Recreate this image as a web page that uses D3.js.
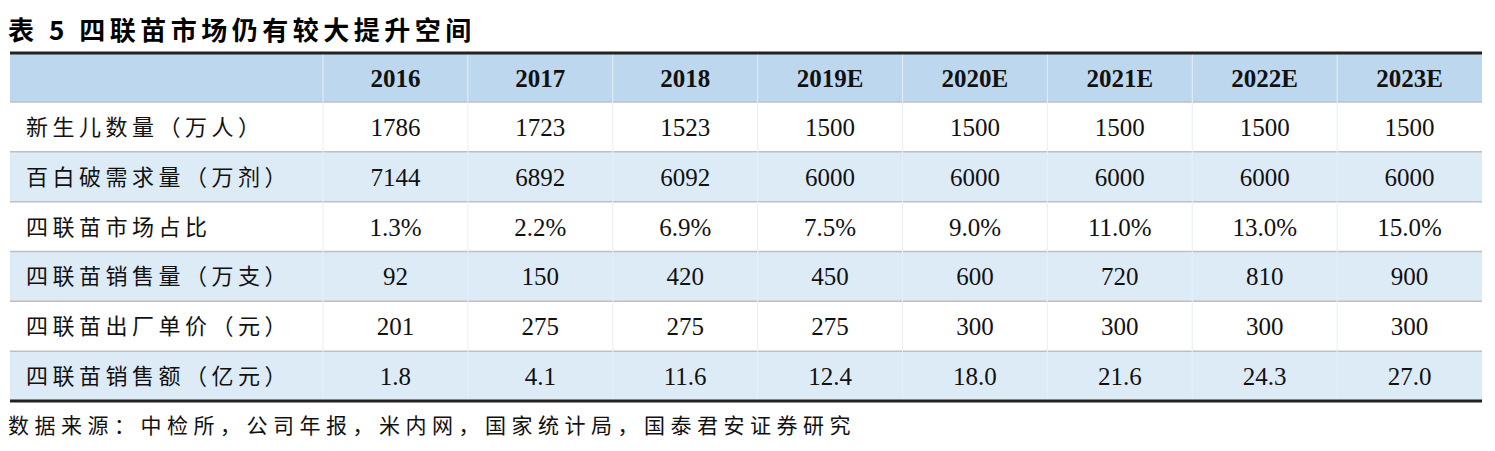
<!DOCTYPE html><html><head><meta charset="utf-8"><script src="https://cdn.jsdelivr.net/npm/d3@7"></script>
<style>body{margin:0;background:#fff}</style></head><body><svg id="c" width="1495" height="451"></svg>
<script>
const title="表 5 四联苗市场仍有较大提升空间";
const years=["2016","2017","2018","2019E","2020E","2021E","2022E","2023E"];
const rowLabels=["新生儿数量（万人）","百白破需求量（万剂）","四联苗市场占比","四联苗销售量（万支）","四联苗出厂单价（元）","四联苗销售额（亿元）"];
const births=["1786","1723","1523","1500","1500","1500","1500","1500"];
const dtpDemand=["7144","6892","6092","6000","6000","6000","6000","6000"];
const share=["1.3%","2.2%","6.9%","7.5%","9.0%","11.0%","13.0%","15.0%"];
const volume=["92","150","420","450","600","720","810","900"];
const price=["201","275","275","275","300","300","300","300"];
const sales=["1.8","4.1","11.6","12.4","18.0","21.6","24.3","27.0"];
const source="数据来源：中检所，公司年报，米内网，国家统计局，国泰君安证券研究";
const rows=[births,dtpDemand,share,volume,price,sales];

const svg=d3.select("#c");
const L=10,R=1482,labelW=313,T0=53,hdrH=49,B0=401;
const x=d3.scaleBand().domain(years).range([L+labelW,R]);
const y=d3.scaleBand().domain(d3.range(rows.length)).range([T0+hdrH,B0]);
const serif="'Liberation Serif','Times New Roman',serif";
const cjk="'Noto Sans CJK SC',sans-serif";
svg.append("text").attr("x",8).attr("y",40).attr("font-family",cjk).attr("font-weight","bold").attr("font-size",26).attr("letter-spacing",4.5).text(title);
svg.append("rect").attr("x",L).attr("y",T0).attr("width",R-L).attr("height",hdrH).attr("fill","#BDD7EE");
rows.forEach((r,i)=>{
  svg.append("rect").attr("x",L).attr("y",y(i)).attr("width",R-L).attr("height",y.bandwidth()).attr("fill",i%2?"#DDEBF7":"#fff");
  svg.append("line").attr("x1",L).attr("x2",R).attr("y1",y(i)).attr("y2",y(i)).attr("stroke","#bfbfbf").attr("stroke-width",1.5);
  svg.append("text").attr("x",L+16).attr("y",y(i)+y.bandwidth()/2+8).attr("font-family",cjk).attr("font-size",22).attr("letter-spacing",4.5).attr("fill","#111").text(rowLabels[i]);
  r.forEach((v,j)=>svg.append("text").attr("x",x(years[j])+x.bandwidth()/2).attr("y",y(i)+y.bandwidth()/2+9).attr("text-anchor","middle").attr("font-family",serif).attr("font-size",25).attr("fill","#111").text(v));
});
years.forEach(yr=>{
  svg.append("line").attr("x1",x(yr)).attr("x2",x(yr)).attr("y1",T0).attr("y2",B0).attr("stroke","#e8eef5").attr("stroke-width",1);
  svg.append("text").attr("x",x(yr)+x.bandwidth()/2).attr("y",T0+hdrH/2+9).attr("text-anchor","middle").attr("font-family",serif).attr("font-weight","bold").attr("font-size",25).attr("fill","#111").text(yr);
});
svg.append("line").attr("x1",L).attr("x2",R).attr("y1",T0).attr("y2",T0).attr("stroke","#222").attr("stroke-width",3);
svg.append("line").attr("x1",L).attr("x2",R).attr("y1",B0).attr("y2",B0).attr("stroke","#222").attr("stroke-width",3);
svg.append("text").attr("x",8).attr("y",433).attr("font-family",cjk).attr("font-size",21).attr("letter-spacing",5.5).attr("fill","#111").text(source);
</script></body></html>
